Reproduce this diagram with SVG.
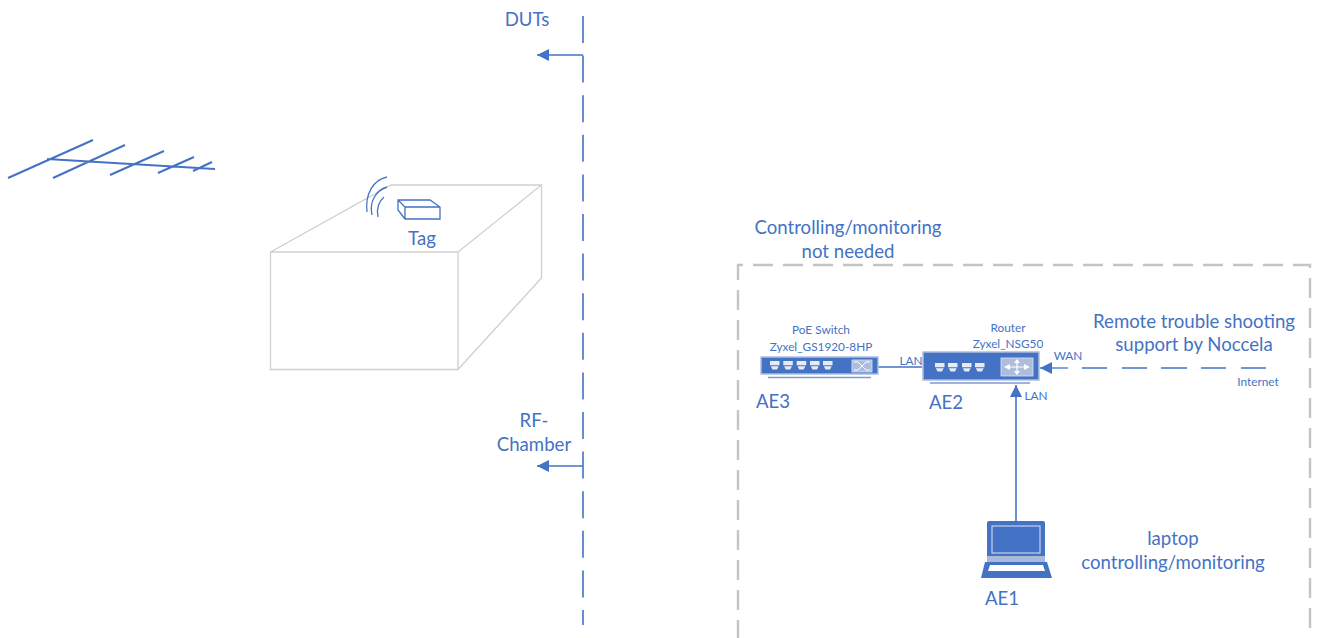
<svg xmlns="http://www.w3.org/2000/svg" width="1317" height="638" viewBox="0 0 1317 638">
<style>
text{font-family:"Lato","Liberation Sans",sans-serif;fill:#4472c4;text-anchor:middle}
.m{font-size:18.600px}
.s{font-size:11.800px}
.line{fill:none;stroke:#4472c4;stroke-width:1.600}
.ant{fill:none;stroke:#4472c4;stroke-width:2}
.thin{fill:none;stroke:#4472c4;stroke-width:1.300}
.box{fill:none;stroke:#cfcfcf;stroke-width:1.300}
.fill{fill:#4472c4}
.port{fill:#e6ebf6}
.panel{fill:#aebdde;stroke:#dfe5f3;stroke-width:.8}
.base{fill:none;stroke:#7f9ad0;stroke-width:1.500}
</style>
<defs>
<marker id="arrow" markerUnits="userSpaceOnUse" markerWidth="13" markerHeight="12" refX="12" refY="6" orient="auto">
<path d="M0 0L12 6L0 12Z" fill="#4472c4"/>
</marker>
<path id="port" class="port" d="M0 0H9.500V4.200H0ZM.8 5.200H8.700L7 8.500H2.500Z"/>
</defs>
<rect width="1317" height="638" fill="#fff"/>

<g id="monitor-boundary">
<path d="M738 640V265H1310V640" fill="none" stroke="#c4c4c4" stroke-width="2.400" stroke-dasharray="20 10"/>
<text class="m" x="848" y="234">Controlling/monitoring</text>
<text class="m" x="848" y="258">not needed</text>
</g>

<g id="antenna">
<path class="ant" d="M47 159L215 169M8 178L93 140M53 178L125 145M110 175L164 151M158 173L194 157M193 171L212 162"/>
</g>

<g id="rf-chamber">
<path class="box" d="M270.500 252H458V369.500H270.500ZM270.500 252L391 185H541.500L458 252M541.500 185V278L458 369.500"/>
</g>

<g id="tag">
<path class="thin" d="M398 200H430L440 207V219H405L398 210ZM398 200L405 207V219M405 207H440"/>
<path class="thin" d="M367 212C365 194 373 180 387 177M372 215C369 202 376 190 387 187M378 217C376 209 379 201 384 197"/>
<text class="m" x="422" y="245">Tag</text>
</g>

<g id="connectors">
<path class="line" d="M583 16V625" stroke-dasharray="27 12.600"/>
<path class="line" d="M583 55H537" marker-end="url(#arrow)"/>
<path class="line" d="M583 466H537" marker-end="url(#arrow)"/>
<path class="thin" d="M878 367H922"/>
<path class="line" d="M1016 525V385" marker-end="url(#arrow)"/>
<path class="thin" d="M1068 368H1040" marker-end="url(#arrow)"/>
<path class="thin" d="M1082 368H1107M1122 368H1147M1161 368H1187M1201 368H1226M1241 368H1266"/>
</g>

<g id="AE3">
<rect x="761" y="357" width="117" height="17" class="fill" stroke="#aebdde" stroke-width="1.500"/>
<path class="base" d="M768 377.500H871"/>
<use href="#port" x="770" y="361"/><use href="#port" x="783.300" y="361"/><use href="#port" x="796.700" y="361"/><use href="#port" x="810" y="361"/><use href="#port" x="823" y="361"/>
<rect class="panel" x="852" y="360" width="20" height="12"/>
<path d="M854 362H858L866 370H870M854 370H858L866 362H870" fill="none" stroke="#fff" stroke-width="1"/>
<text class="s" x="821" y="334">PoE Switch</text>
<text class="s" x="821" y="351">Zyxel_GS1920-8HP</text>
<text class="m" x="773" y="408">AE3</text>
</g>

<g id="AE2">
<rect x="923" y="352" width="116" height="28" class="fill" stroke="#aebdde" stroke-width="1.500"/>
<path class="base" d="M930 383H1030"/>
<use href="#port" x="935" y="363"/><use href="#port" x="948" y="363"/><use href="#port" x="962" y="363"/><use href="#port" x="975" y="363"/>
<rect class="panel" x="1001" y="358" width="32" height="18"/>
<path d="M1010 367H1024M1017 363V371" stroke="#fff" stroke-width="1.200" fill="none"/>
<path d="M1004 367L1010 364V370ZM1030 367L1024 364V370ZM1017 359L1014 363H1020ZM1017 375L1014 371H1020Z" fill="#fff"/>
<text class="s" x="1008" y="332">Router</text>
<text class="s" x="1008" y="348">Zyxel_NSG50</text>
<text class="m" x="946" y="409">AE2</text>
</g>

<g id="AE1">
<path class="fill" d="M987 523Q987 521 989 521H1043Q1045 521 1045 523V556H987Z"/>
<rect x="992" y="526" width="48" height="27" fill="#4472c4" stroke="#dbe3f3" stroke-width="1"/>
<path d="M987 556H1045V562H987Z" fill="#a9bad9"/>
<path class="fill" d="M985 562H1047L1052 578H981Z"/>
<path d="M990 565H1043L1045 571H988Z" fill="#fff"/>
<text class="m" x="1002" y="605">AE1</text>
</g>

<g id="labels">
<text class="s" x="911" y="365">LAN</text>
<text class="s" x="1068" y="360">WAN</text>
<text class="s" x="1036" y="400">LAN</text>
<text class="s" x="1258" y="386">Internet</text>
<text class="m" x="1194" y="328">Remote trouble shooting</text>
<text class="m" x="1194" y="351">support by Noccela</text>
<text class="m" x="527" y="26">DUTs</text>
<text class="m" x="534" y="427">RF-</text>
<text class="m" x="534" y="451">Chamber</text>
<text class="m" x="1173" y="545">laptop</text>
<text class="m" x="1173" y="569">controlling/monitoring</text>
</g>
</svg>
